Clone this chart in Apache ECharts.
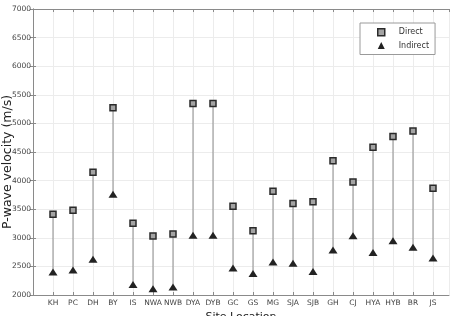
<!DOCTYPE html>
<html>
<head>
<meta charset="utf-8">
<script src="https://cdn.jsdelivr.net/npm/echarts@6/dist/echarts.min.js"></script>
<style>
  html, body { margin: 0; padding: 0; background: #fff; }
  #chart { width: 452px; height: 316px; }
</style>
</head>
<body>
<div id="chart"></div>
<script>
const sites = ['KH', 'PC', 'DH', 'BY', 'IS', 'NWA', 'NWB', 'DYA', 'DYB', 'GC',
  'GS', 'MG', 'SJA', 'SJB', 'GH', 'CJ', 'HYA', 'HYB', 'BR', 'JS'];
const direct = [3410, 3480, 4145, 5275, 3255, 3030, 3065, 5350, 5350, 3550,
  3125, 3815, 3600, 3630, 4345, 3975, 4585, 4770, 4865, 3865];
const indirect = [2400, 2435, 2625, 3760, 2185, 2110, 2140, 3045, 3045, 2470,
  2375, 2575, 2555, 2410, 2785, 3035, 2745, 2950, 2835, 2645];
const yTicks = [2000, 2500, 3000, 3500, 4000, 4500, 5000, 5500, 6000, 6500, 7000];

const font = 'DejaVu Sans';
const chart = echarts.init(document.getElementById('chart'));

const axisLine = { show: true, lineStyle: { color: '#8a8a8a', width: 1 } };
const tickIn = { show: true, inside: true, length: 3, lineStyle: { color: '#8a8a8a' } };
const grid = { show: true, lineStyle: { color: '#ececec', width: 1 } };

const directStyle = { color: '#a3a3a3', borderColor: '#2a2a2a', borderWidth: 1.5, opacity: 1 };
const indirectStyle = { color: '#222', opacity: 1 };

chart.setOption({
  animation: false,
  textStyle: { fontFamily: font },
  grid: { left: 33, top: 9, right: 3, bottom: 21, outerBoundsMode: 'none', containLabel: false },
  legend: {
    orient: 'vertical',
    left: 360,
    top: 23,
    itemWidth: 7,
    itemHeight: 7,
    itemGap: 5,
    padding: [5, 6, 5, 17],
    borderColor: '#9a9a9a',
    borderWidth: 1,
    backgroundColor: '#fff',
    textStyle: { fontSize: 8, color: '#333', fontFamily: font, padding: [0, 0, 0, 9] },
    data: [
      { name: 'Direct', icon: 'rect', itemStyle: directStyle },
      { name: 'Indirect', icon: 'triangle', itemStyle: indirectStyle }
    ]
  },
  xAxis: [
    {
      type: 'value',
      min: 0,
      max: 20.8,
      interval: 1,
      name: 'Site Location',
      nameLocation: 'middle',
      nameGap: 17,
      nameMoveOverlap: false,
      nameTextStyle: { fontSize: 11, color: '#222' },
      axisLine: axisLine,
      axisTick: tickIn,
      splitLine: grid,
      axisLabel: {
        fontSize: 7.5,
        color: '#444',
        margin: 4,
        showMaxLabel: false,
        formatter: v => (Number.isInteger(v) && sites[v - 1]) || ''
      }
    },
    {
      type: 'value',
      position: 'top',
      min: 0,
      max: 20.8,
      interval: 1,
      axisLine: axisLine,
      axisTick: tickIn,
      splitLine: { show: false },
      axisLabel: { show: false }
    }
  ],
  yAxis: [
    {
      type: 'value',
      min: yTicks[0],
      max: yTicks[yTicks.length - 1],
      interval: 500,
      name: 'P-wave velocity (m/s)',
      nameLocation: 'middle',
      nameGap: 19,
      nameMoveOverlap: false,
      nameTextStyle: { fontSize: 12.5, color: '#222', padding: [0, 20, 0, 0] },
      axisLine: axisLine,
      axisTick: tickIn,
      splitLine: grid,
      axisLabel: { fontSize: 7.5, color: '#444', margin: 2, formatter: v => String(v) }
    },
    {
      type: 'value',
      position: 'right',
      min: yTicks[0],
      max: yTicks[yTicks.length - 1],
      interval: 500,
      axisLine: axisLine,
      axisTick: tickIn,
      splitLine: { show: false },
      axisLabel: { show: false }
    }
  ],
  series: [
    {
      name: 'stem',
      type: 'custom',
      silent: true,
      data: sites.map((s, i) => [i + 1, indirect[i], direct[i]]),
      renderItem: (params, api) => {
        const p0 = api.coord([api.value(0), api.value(1)]);
        const p1 = api.coord([api.value(0), api.value(2)]);
        return {
          type: 'line',
          shape: { x1: p0[0], y1: p0[1], x2: p1[0], y2: p1[1] },
          style: { stroke: '#8c8c8c', lineWidth: 1 }
        };
      },
      z: 1
    },
    {
      name: 'Direct',
      type: 'scatter',
      symbol: 'rect',
      symbolSize: 6,
      data: sites.map((s, i) => [i + 1, direct[i]]),
      itemStyle: directStyle,
      z: 3
    },
    {
      name: 'Indirect',
      type: 'scatter',
      symbol: 'triangle',
      symbolSize: [9, 7],
      data: sites.map((s, i) => [i + 1, indirect[i]]),
      itemStyle: indirectStyle,
      z: 3
    }
  ]
});
</script>
</body>
</html>
